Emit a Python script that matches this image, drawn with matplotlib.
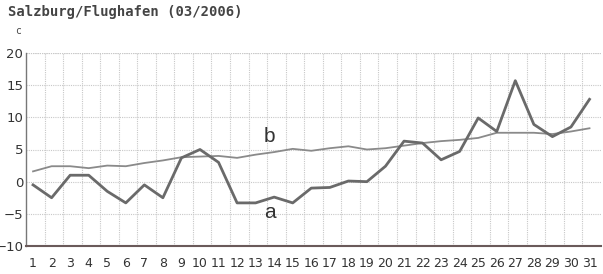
import matplotlib
matplotlib.use("Agg")
import matplotlib.pyplot as plt
import numpy as np

days = list(range(1, 32))
series_a = [-0.5, -2.5, 1.0, 1.0, -1.5, -3.3, -0.5, -2.5, 3.7, 5.0,
            3.0, -3.3, -3.3, -2.4, -3.3, -1.0, -0.9, 0.1, 0.0, 2.4,
            6.3, 6.0, 3.4, 4.7, 9.9, 7.8, 15.7, 8.9, 7.0, 8.5, 12.8]
series_b = [1.6, 2.4, 2.4, 2.1, 2.5, 2.4, 2.9, 3.3, 3.8, 3.9,
            4.0, 3.7, 4.2, 4.6, 5.1, 4.8, 5.2, 5.5, 5.0, 5.2,
            5.6, 6.0, 6.3, 6.5, 6.8, 7.6, 7.6, 7.6, 7.4, 7.8, 8.3]
y_ticks = [-10, -5, 0, 5, 10, 15, 20]
title = "Salzburg/Flughafen (03/2006)"
unit = "c"

W, H = 603, 274
fig = plt.figure(figsize=(W / 100, H / 100), dpi=100)
left, right, top, bottom = 26, 601, 53, 246
ax = fig.add_axes([left / W, 1 - bottom / H, (right - left) / W, (bottom - top) / H])

ax.plot(days, series_b, color="#8a8a8a", lw=1.3, zorder=3)
ax.plot(days, series_a, color="#6a6a6a", lw=2.0, zorder=4)

x0 = 0.62
ax.set_xlim(x0, x0 + 31)
ax.set_ylim(-10, 20)
ax.set_xticks(days)
ax.set_xticklabels([str(d) for d in days])
ax.set_xticks([x0 + k for k in range(1, 31)], minor=True)
ax.set_yticks(y_ticks)
ax.tick_params(axis="both", which="both", length=0, colors="#333333")
ax.tick_params(axis="x", pad=8, labelsize=9)
ax.tick_params(axis="y", pad=2, labelsize=9.5)

ax.grid(which="minor", axis="x", color="#c8c8c8", lw=0.8, ls=(0, (1, 1)))
ax.grid(which="major", axis="y", color="#c8c8c8", lw=0.8, ls=(0, (1, 1)))
ax.grid(which="major", axis="x", visible=False)

for s in ["top", "right"]:
    ax.spines[s].set_visible(False)
ax.spines["left"].set_color("#777777")
ax.spines["bottom"].set_color("#6a5a5a")
ax.spines["bottom"].set_linewidth(1.5)
ax.spines["left"].set_linewidth(1.0)
ax.axhline(20, color="#c8c8c8", lw=0.8, ls=(0, (1, 1)))

ax.text(13.75, 7.0, "b", fontsize=15, family="Liberation Sans", color="#333333",
        ha="center", va="center")
ax.text(13.75, -4.8, "a", fontsize=15, family="Liberation Sans", color="#333333",
        ha="center", va="center")

fig.text(8 / W, 1 - 12 / H, title, fontsize=10, family="DejaVu Sans Mono",
         fontweight="bold", color="#444444", ha="left", va="center")
fig.text(18 / W, 1 - 31 / H, unit, fontsize=7, family="DejaVu Sans Mono",
         color="#444444", ha="center", va="center")

fig.savefig("out.png", dpi=100, facecolor="white")
